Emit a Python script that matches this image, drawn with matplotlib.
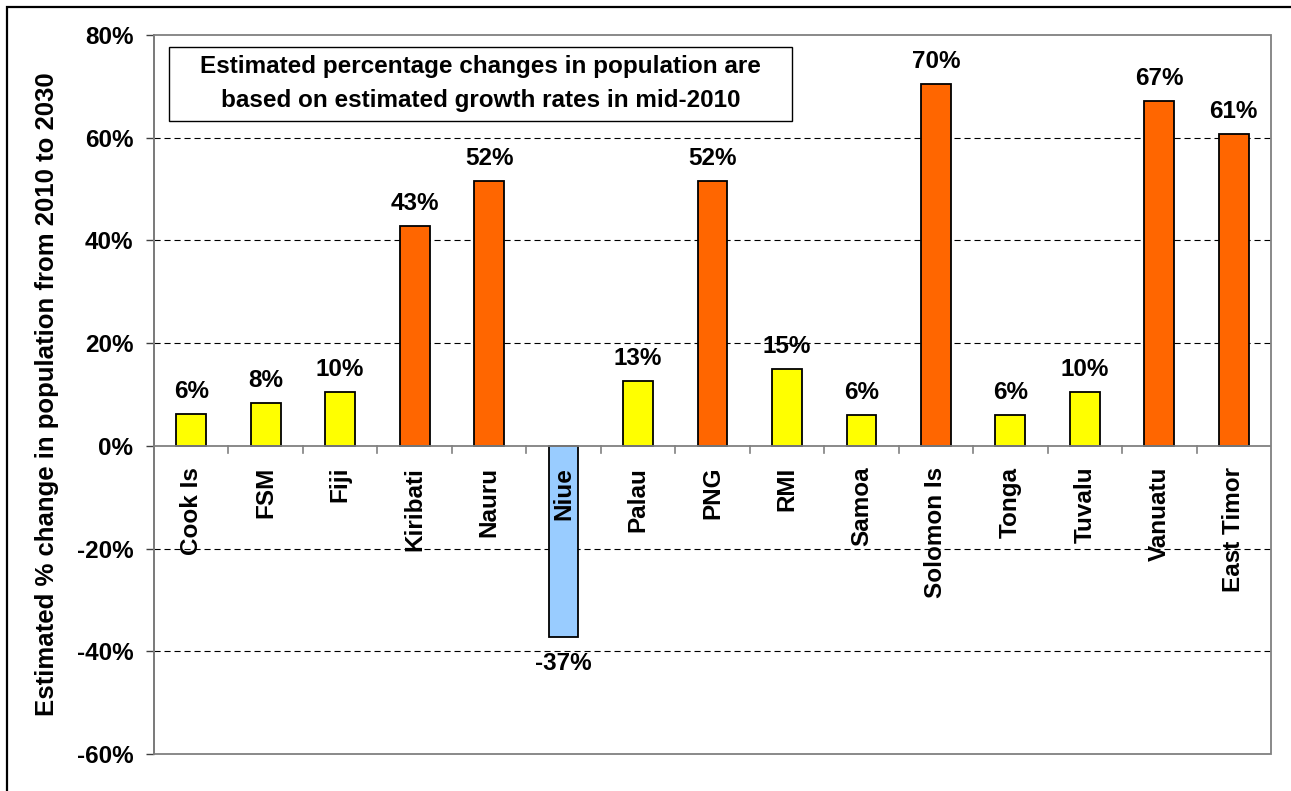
import matplotlib.pyplot as plt
from matplotlib.patches import Rectangle
from matplotlib.ticker import FixedLocator, PercentFormatter

plt.rcParams["font.family"] = ["Liberation Sans", "DejaVu Sans"]
plt.rcParams["font.weight"] = "bold"
plt.rcParams["axes.unicode_minus"] = False

COUNTRIES = [
    "Cook Is", "FSM", "Fiji", "Kiribati", "Nauru", "Niue", "Palau", "PNG",
    "RMI", "Samoa", "Solomon Is", "Tonga", "Tuvalu", "Vanuatu", "East Timor",
]
PCT_CHANGE = [6.2, 8.3, 10.4, 42.8, 51.6, -37.2, 12.7, 51.6,
              15.0, 6.1, 70.4, 6.1, 10.4, 67.1, 60.7]
GROWTH_CLASS = ["low", "low", "low", "high", "high", "decline", "low", "high",
                "low", "low", "high", "low", "low", "high", "high"]
Y_TICKS = [-60, -40, -20, 0, 20, 40, 60, 80]

CLASS_COLORS = {"low": "#FFFF00", "high": "#FF6600", "decline": "#99CCFF"}
FRAME_GRAY = "#808080"
FS = 17.5

fig = plt.figure(figsize=(12.91, 7.91), dpi=100)
ax = fig.add_axes([154 / 1291, 37 / 791, 1117 / 1291, 719 / 791])

x = list(range(len(COUNTRIES)))
colors = [CLASS_COLORS[c] for c in GROWTH_CLASS]
ax.bar(x, PCT_CHANGE, width=0.4, color=colors, edgecolor="black",
       linewidth=1.3, zorder=2)

ax.set_xlim(-0.5, len(COUNTRIES) - 0.5)
ax.set_ylim(-60, 80)

# dashed gridlines behind the bars
for v in Y_TICKS:
    if v not in (0, -60, 80):
        ax.axhline(v, color="black", linewidth=0.8, dashes=(5.5, 3.5), zorder=0.5)

# frame: darker left spine, gray elsewhere, zero line carries the category ticks
ax.spines[["top", "right", "bottom"]].set_visible(False)
ax.spines["left"].set_color("#404040")
ax.spines["left"].set_linewidth(1.2)
ax.add_patch(Rectangle((0, 0), 1, 1, transform=ax.transAxes, fill=False,
                       edgecolor=FRAME_GRAY, linewidth=1.3, zorder=3, clip_on=False))
ax.axhline(0, color=FRAME_GRAY, linewidth=1.3, zorder=3)

ax.xaxis.set_major_locator(FixedLocator([i + 0.5 for i in x[:-1]]))
ax.set_xticklabels([])
ax.tick_params(axis="x", bottom=False)
for xb in [i + 0.5 for i in x[:-1]]:
    ax.plot([xb, xb], [0, -1.4], color=FRAME_GRAY, linewidth=1.2, zorder=3)

ax.yaxis.set_major_locator(FixedLocator(Y_TICKS))
ax.yaxis.set_major_formatter(PercentFormatter(decimals=0))
ax.tick_params(axis="y", length=5.8, width=1.0, color="#404040", pad=9,
               labelsize=FS)
for lab in ax.get_yticklabels():
    lab.set_fontweight("bold")

ax.set_ylabel("Estimated % change in population from 2010 to 2030",
              fontsize=18.5, fontweight="bold", labelpad=13)

# category names hang below the zero line, written upward
for i, name in enumerate(COUNTRIES):
    ax.annotate(name, (i, 0), xytext=(0, -15), textcoords="offset points",
                rotation=90, ha="center", va="top", fontsize=FS,
                fontweight="bold", zorder=5)

# value labels
for i, v in enumerate(PCT_CHANGE):
    if v >= 0:
        ax.annotate(f"{v:.0f}%", (i, v), xytext=(0, 11.5),
                    textcoords="offset points", ha="center", va="baseline",
                    fontsize=FS, fontweight="bold", zorder=5)
    else:
        ax.annotate(f"{v:.0f}%", (i, v), xytext=(0, -11),
                    textcoords="offset points", ha="center", va="top",
                    fontsize=FS, fontweight="bold", zorder=5)

# note box
ax.add_patch(Rectangle((15 / 1117, 633 / 719), 623 / 1117, 74 / 719,
                       transform=ax.transAxes, facecolor="white",
                       edgecolor="black", linewidth=1.0, zorder=4))
ax.text(0.2923, 0.932,
        "Estimated percentage changes in population are\n"
        "based on estimated growth rates in mid-2010",
        transform=ax.transAxes, ha="center", va="center", fontsize=FS,
        fontweight="bold", linespacing=1.6, zorder=5)

# outer border of the chart area
fig.patches.append(Rectangle((7 / 1291, -0.1), 1.2, (784 / 791) + 0.1,
                             transform=fig.transFigure, fill=False,
                             edgecolor="black", linewidth=1.6))

fig.savefig("out.png", dpi=100)
